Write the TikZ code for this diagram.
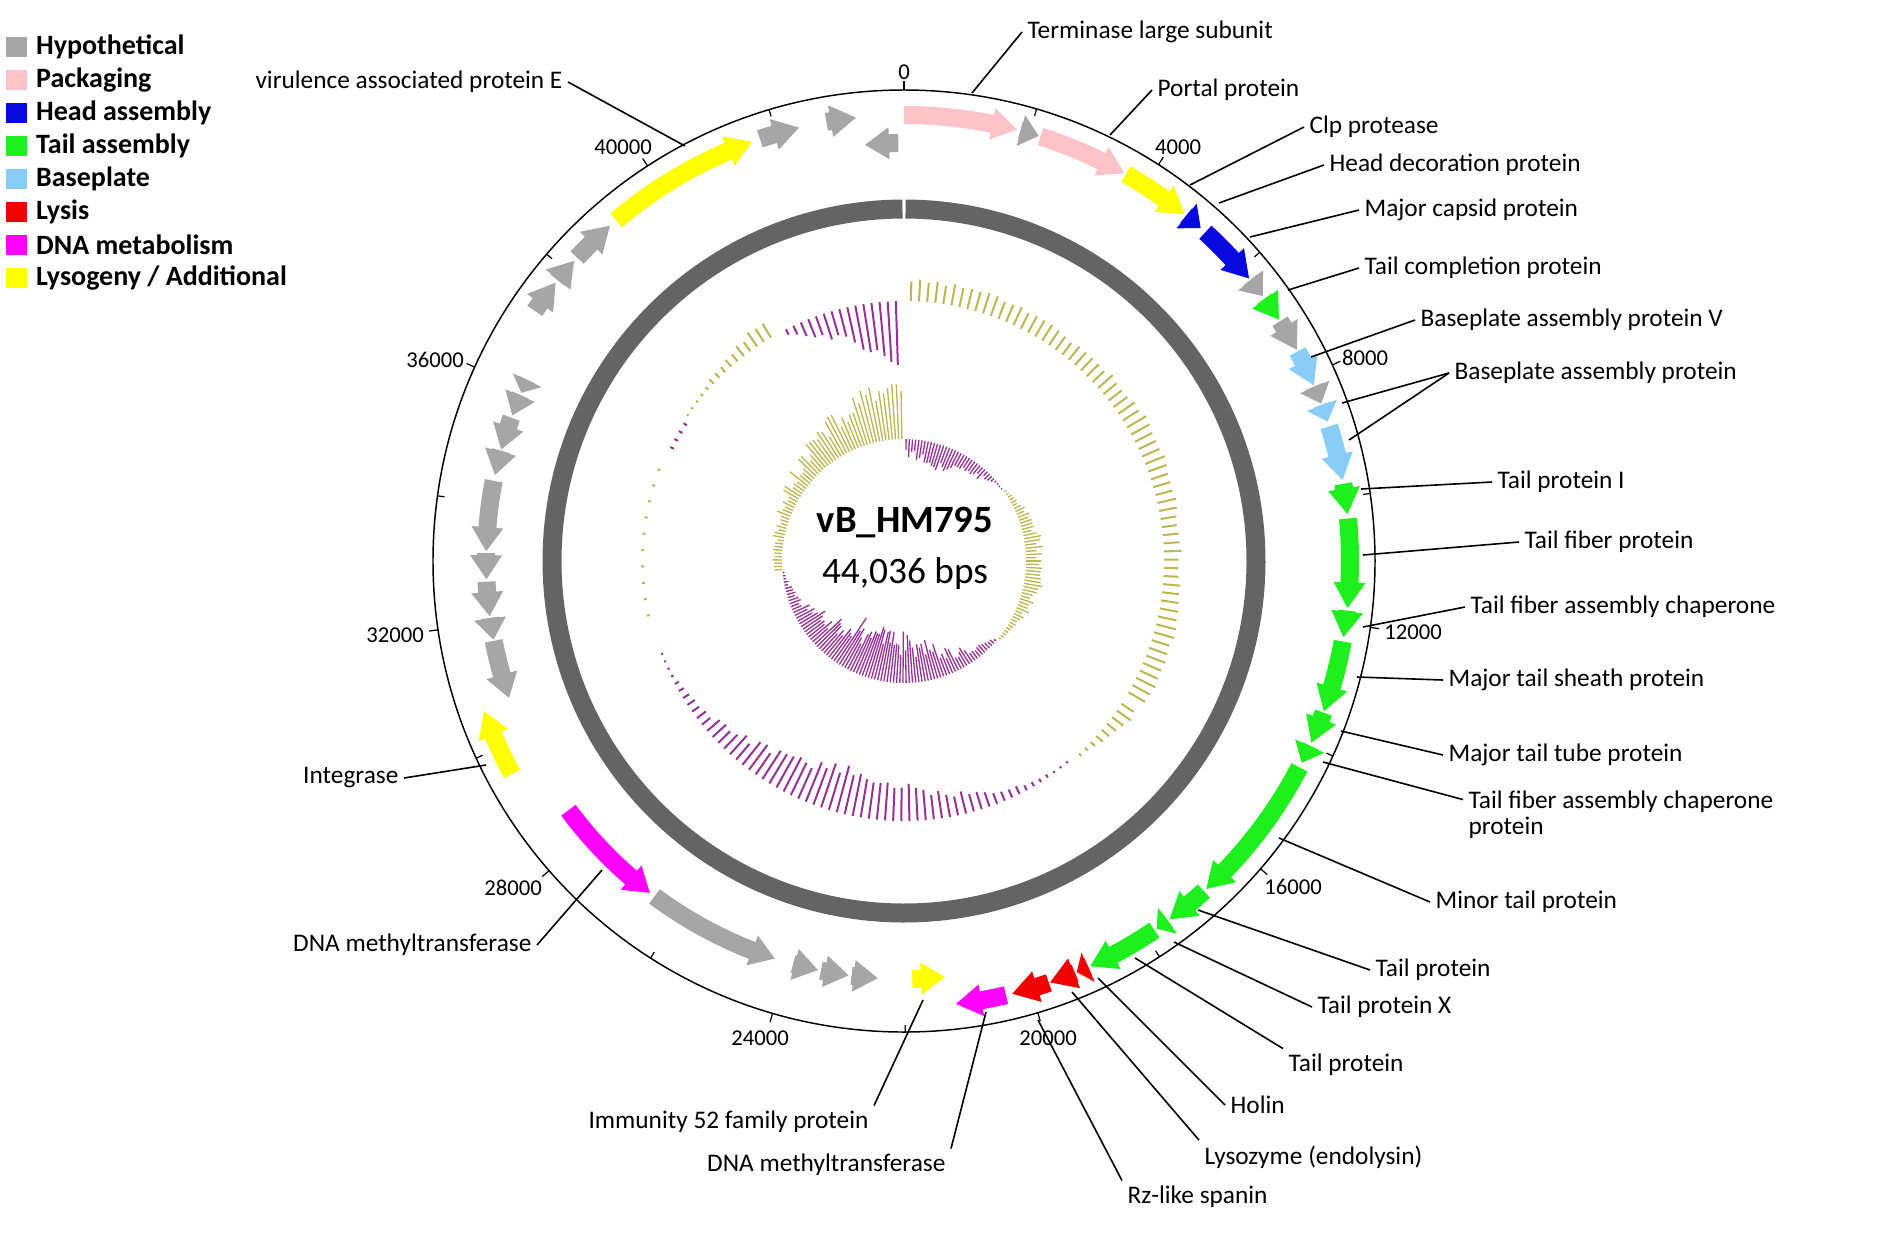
\documentclass[tikz,border=0pt]{standalone}
\usepackage{fontspec}
\setmainfont{Carlito}
\usepackage{tikz}
\usetikzlibrary{positioning}
\definecolor{hypo}{RGB}{166,166,166}
\definecolor{pack}{RGB}{255,194,198}
\definecolor{head}{RGB}{8,8,225}
\definecolor{tail}{RGB}{30,240,30}
\definecolor{base}{RGB}{135,205,245}
\definecolor{lysis}{RGB}{240,0,0}
\definecolor{dnam}{RGB}{255,0,255}
\definecolor{lyso}{RGB}{255,255,0}
\definecolor{ring}{RGB}{100,100,100}
\definecolor{gcolive}{RGB}{188,183,80}
\definecolor{gcpurple}{RGB}{150,50,150}
\tikzset{
  lbl/.style={font=\fontsize{19}{22}\selectfont, inner sep=4pt},
  lead/.style={line width=1.2pt},
  tick/.style={line width=0.9pt},
  ticklbl/.style={font=\fontsize{17}{20}\selectfont, inner sep=0pt},
  legsq/.style={minimum width=15.75pt, minimum height=15pt, inner sep=0pt},
  legtxt/.style={font=\fontsize{21}{24}\selectfont\bfseries, inner sep=0pt},
  gcpos/.style={draw=gcolive, line width=1.5pt},
  gcneg/.style={draw=gcpurple, line width=1.5pt},
  skpos/.style={draw=gcolive, line width=1pt},
  skneg/.style={draw=gcpurple, line width=1pt}
}

\begin{document}
\begin{tikzpicture}[x=0.75pt, y=-0.75pt]
        \useasboundingbox (0,0) rectangle (1901,1233);
        \pgfmathsetseed{11}

        % Legend
        \foreach \c/\t [count=\i] in {hypo/Hypothetical, pack/Packaging, head/Head assembly, tail/Tail assembly, base/Baseplate, lysis/Lysis, dnam/DNA metabolism, lyso/{Lysogeny / Additional}} {
          \node[legsq, fill=\c] (sq\i) at (16.5,{47+33*(\i-1)}) {};
          \node[legtxt, right=6.5pt of sq\i] (lg\i) {\t};
        }

        \begin{scope}[shift={(904,561)}]
          % Genome circle and ticks (positions in kb, 8.175129 deg per kb)
          \draw[line width=1.1pt] (0,0) circle[radius=471];
          \foreach \p in {0,4,...,40}
            \draw[tick] ({\p*8.175129-90}:471) -- ({\p*8.175129-90}:480);
          \foreach \p in {2,6,...,42}
            \draw[tick] ({\p*8.175129-90}:471) -- ({\p*8.175129-90}:464);

          % Backbone
          \draw[ring, line width=14.25pt] (-89.75:352) arc[start angle=-89.75, end angle=269.75, radius=352];

          % Genes: start/end (kb)/strand/colour
          \foreach \s/\e/\d/\c in {0/1.8/1/pack, 1.85/2.15/1/hypo, 2.18/3.62/1/pack, 3.65/4.77/1/lyso,
              4.8/5.1/1/head, 5.2/6.2/1/head, 6.23/6.55/1/hypo, 6.6/7.0/1/tail, 7.03/7.55/1/hypo,
              7.58/8.17/1/base, 8.19/8.48/1/hypo, 8.5/8.78/1/base, 8.86/9.73/1/base, 9.79/10.27/1/tail,
              10.34/11.75/1/tail, 11.79/12.21/1/tail, 12.28/13.42/1/tail, 13.44/13.95/1/tail,
              14.0/14.3/1/tail, 14.38/16.8/1/tail, 16.85/17.55/1/tail, 17.58/17.8/1/tail,
              17.84/19.0/1/tail, 19.03/19.23/1/lysis, 19.26/19.68/1/lysis, 19.7/20.3/1/lysis,
              20.4/21.2/1/dnam, 21.33/21.88/-1/lyso, 22.46/22.9/-1/hypo, 22.95/23.42/-1/hypo,
              23.47/23.9/-1/hypo, 24.22/26.5/-1/hypo, 26.6/28.55/-1/dnam, 29.54/30.62/1/lyso,
              30.69/31.68/-1/hypo, 31.7/32.07/-1/hypo, 32.1/32.68/-1/hypo, 32.72/33.16/-1/hypo,
              33.19/34.38/-1/hypo, 34.48/34.9/-1/hypo, 34.92/35.48/-1/hypo, 35.52/35.89/-1/hypo,
              35.93/36.17/-1/hypo, 37.2/37.75/1/hypo, 37.8/38.2/1/hypo, 38.27/38.99/1/hypo,
              39.12/41.6/1/lyso, 41.73/42.37/1/hypo, 42.81/43.28/1/hypo, 43.38/43.94/-1/hypo} {
            \pgfmathsetmacro\as{\s*8.175129-90}
            \pgfmathsetmacro\ae{\e*8.175129-90}
            \pgfmathsetmacro\rc{\d>0 ? 446 : 418}
            \pgfmathsetmacro\ta{\d>0 ? \as : \ae}
            \pgfmathsetmacro\tp{\d>0 ? \ae : \as}
            \pgfmathsetmacro\hb{\tp-(\d)*min(3.3,0.97*abs(\ae-\as))}
            \pgfmathsetmacro\ri{\rc-9}
            \pgfmathsetmacro\ro{\rc+9}
            \pgfmathsetmacro\hi{\rc-16}
            \pgfmathsetmacro\ho{\rc+16}
            \fill[\c] (\ta:\ri) arc[start angle=\ta, end angle=\hb, radius=\ri] -- (\hb:\hi) -- (\tp:\rc)
              -- (\hb:\ho) -- (\hb:\ro) arc[start angle=\hb, end angle=\ta, radius=\ro] -- cycle;
          }

          % GC content
          \foreach \t in {1.5,3.3,...,121.5} {
            \pgfmathsetmacro\h{(19+2.5*sin(7*\t))*(0.85+0.25*rnd)}
            \draw[gcpos] ({\t-90}:260) -- ({\t-90}:{260+\h});
          }
          \foreach \t in {123.3,125.1,...,139} {
            \pgfmathsetmacro\h{(1+18*(140-\t)/17)*(0.7+0.4*rnd)}
            \draw[gcpos] ({\t-90}:260) -- ({\t-90}:{260+\h});
          }
          \foreach \t in {141,142.8,...,250} {
            \pgfmathsetmacro\h{(2+42*sin((\t-140)*1.636364)*sin((\t-140)*1.636364))*(0.8+0.3*rnd)}
            \draw[gcneg] ({\t-90}:260) -- ({\t-90}:{260-\h});
          }
          \foreach \t in {258,261.6,...,294} \draw[gcpos] ({\t-90}:260) -- ({\t-90}:263);
          \foreach \t in {296,298,300,302} \draw[gcneg] ({\t-90}:260) -- ({\t-90}:256);
          \foreach \t in {304,305.8,...,330} {
            \pgfmathsetmacro\h{(2+18*((\t-304)/26)*sqrt((\t-304)/26))*(0.75+0.4*rnd)}
            \draw[gcpos] ({\t-90}:260) -- ({\t-90}:{260+\h});
          }
          \foreach \t in {333,334.8,...,359} {
            \pgfmathsetmacro\h{(6+60*(\t-333)/26)*(0.8+0.3*rnd)}
            \draw[gcneg] ({\t-90}:260) -- ({\t-90}:{260-\h});
          }

          % GC skew
          \foreach \t in {1,2.5,...,54} {
            \pgfmathsetmacro\h{max(1.5,16+6*sin(\t*4.5)-16*(\t/55)*(\t/55)*(\t/55)*(\t/55))*(0.6+0.6*rnd)}
            \draw[skneg] ({\t-90}:122) -- ({\t-90}:{122-\h});
          }
          \foreach \t in {55.5,57,...,130} {
            \pgfmathsetmacro\h{(2+15*sin((\t-55)*2.4))*(0.6+0.6*rnd)}
            \draw[skpos] ({\t-90}:122) -- ({\t-90}:{122+\h});
          }
          \foreach \t in {131,132.5,...,265} {
            \pgfmathsetmacro\s{sin((\t-128)*1.313869)}
            \pgfmathsetmacro\h{(3+47*\s*sqrt(abs(\s)))*(0.6+0.6*rnd)}
            \draw[skneg] ({\t-90}:122) -- ({\t-90}:{122-\h});
          }
          \foreach \t in {266,267.5,...,359} {
            \pgfmathsetmacro\h{(8+52*((\t-265)/94)*((\t-265)/94))*(0.6+0.6*rnd)}
            \draw[skpos] ({\t-90}:122) -- ({\t-90}:{122+\h});
          }
        \end{scope}

        % Name
        \node[font=\fontsize{29}{32}\selectfont\bfseries] (phage) at (905,523) {vB\_HM795};
        \node[font=\fontsize{28}{32}\selectfont] (size) at (905,574) {44,036 bps};

        % Tick labels
        \node[ticklbl] (t0) at (904,72) {0};
        \node[ticklbl] (t4) at (1178,147) {4000};
        \node[ticklbl] (t8) at (1365,358) {8000};
        \node[ticklbl] (t12) at (1413,632) {12000};
        \node[ticklbl] (t16) at (1293,887) {16000};
        \node[ticklbl] (t20) at (1048,1038) {20000};
        \node[ticklbl] (t24) at (760,1038) {24000};
        \node[ticklbl] (t28) at (513,888) {28000};
        \node[ticklbl] (t32) at (395,635) {32000};
        \node[ticklbl] (t36) at (435,360) {36000};
        \node[ticklbl] (t40) at (623,147) {40000};

        % Gene labels
        \node[lbl, anchor=west] (terl) at (1022,32) {Terminase large subunit};
        \node[lbl, anchor=west] (port) at (1152,90) {Portal protein};
        \node[lbl, anchor=west] (clp) at (1304,127) {Clp protease};
        \node[lbl, anchor=west] (hdec) at (1324,165) {Head decoration protein};
        \node[lbl, anchor=west] (mcp) at (1359,210) {Major capsid protein};
        \node[lbl, anchor=west] (tcp) at (1359,268) {Tail completion protein};
        \node[lbl, anchor=west] (bpv) at (1415,320) {Baseplate assembly protein V};
        \node[lbl, anchor=west] (bp) at (1449,373) {Baseplate assembly protein};
        \node[lbl, anchor=west] (tpi) at (1492,482) {Tail protein I};
        \node[lbl, anchor=west] (tfp) at (1519,542) {Tail fiber protein};
        \node[lbl, anchor=west] (tfac) at (1465,607) {Tail fiber assembly chaperone};
        \node[lbl, anchor=west] (mtsp) at (1443,680) {Major tail sheath protein};
        \node[lbl, anchor=west] (mttp) at (1443,755) {Major tail tube protein};
        \node[lbl, anchor=west, align=left, font=\fontsize{19}{19.5}\selectfont] (tfacp) at (1463,815) {Tail fiber assembly chaperone\\protein};
        \node[lbl, anchor=west] (mintp) at (1430,902) {Minor tail protein};
        \node[lbl, anchor=west] (tp1) at (1370,970) {Tail protein};
        \node[lbl, anchor=west] (tpx) at (1312,1007) {Tail protein X};
        \node[lbl, anchor=west] (tp2) at (1283,1065) {Tail protein};
        \node[lbl, anchor=west] (hol) at (1225,1105) {Holin};
        \node[lbl, anchor=west] (lyz) at (1199,1157) {Lysozyme (endolysin)};
        \node[lbl, anchor=west] (rz) at (1122,1197) {Rz-like spanin};
        \node[lbl, anchor=east] (mtb) at (951,1165) {DNA methyltransferase};
        \node[lbl, anchor=east] (imm) at (874,1122) {Immunity 52 family protein};
        \node[lbl, anchor=east] (mtl) at (537,945) {DNA methyltransferase};
        \node[lbl, anchor=east] (int) at (404,778) {Integrase};
        \node[lbl, anchor=east] (vape) at (568,82) {virulence associated protein E};

        % Leader ends
        \coordinate (terl-e) at (972,93);
        \coordinate (port-e) at (1110,135);
        \coordinate (clp-e) at (1190,185);
        \coordinate (hdec-e) at (1219,203);
        \coordinate (mcp-e) at (1250,237);
        \coordinate (tcp-e) at (1288,290);
        \coordinate (bpv-e) at (1311,357);
        \coordinate (bp-e1) at (1342,403);
        \coordinate (bp-e2) at (1349,440);
        \coordinate (tpi-e) at (1361,489);
        \coordinate (tfp-e) at (1363,555);
        \coordinate (tfac-e) at (1363,627);
        \coordinate (mtsp-e) at (1357,677);
        \coordinate (mttp-e) at (1341,731);
        \coordinate (tfacp-e) at (1323,762);
        \coordinate (mintp-e) at (1279,838);
        \coordinate (tp1-e) at (1198,910);
        \coordinate (tpx-e) at (1174,942);
        \coordinate (tp2-e) at (1135,958);
        \coordinate (hol-e) at (1098,978);
        \coordinate (lyz-e) at (1072,992);
        \coordinate (rz-e) at (1038,1020);
        \coordinate (mtb-e) at (986,1012);
        \coordinate (imm-e) at (923,1000);
        \coordinate (mtl-e) at (602,870);
        \coordinate (int-e) at (486,765);
        \coordinate (vape-e) at (685,146);

        \draw[lead] (terl.west) -- (terl-e);
        \draw[lead] (port.west) -- (port-e);
        \draw[lead] (clp.west) -- (clp-e);
        \draw[lead] (hdec.west) -- (hdec-e);
        \draw[lead] (mcp.west) -- (mcp-e);
        \draw[lead] (tcp.west) -- (tcp-e);
        \draw[lead] (bpv.west) -- (bpv-e);
        \draw[lead] (bp.west) -- (bp-e1);
        \draw[lead] (bp.west) -- (bp-e2);
        \draw[lead] (tpi.west) -- (tpi-e);
        \draw[lead] (tfp.west) -- (tfp-e);
        \draw[lead] (tfac.west) -- (tfac-e);
        \draw[lead] (mtsp.west) -- (mtsp-e);
        \draw[lead] (mttp.west) -- (mttp-e);
        \draw[lead] (tfacp.north west) ++(0,14) -- (tfacp-e);
        \draw[lead] (mintp.west) -- (mintp-e);
        \draw[lead] (tp1.west) -- (tp1-e);
        \draw[lead] (tpx.west) -- (tpx-e);
        \draw[lead] (tp2.north west) -- (tp2-e);
        \draw[lead] (hol.west) -- (hol-e);
        \draw[lead] (lyz.north west) -- (lyz-e);
        \draw[lead] (rz.north west) -- (rz-e);
        \draw[lead] (mtb.north east) -- (mtb-e);
        \draw[lead] (imm.north east) -- (imm-e);
        \draw[lead] (mtl.east) -- (mtl-e);
        \draw[lead] (int.east) -- (int-e);
        \draw[lead] (vape.east) -- (vape-e);
      \end{tikzpicture}
\end{document}
